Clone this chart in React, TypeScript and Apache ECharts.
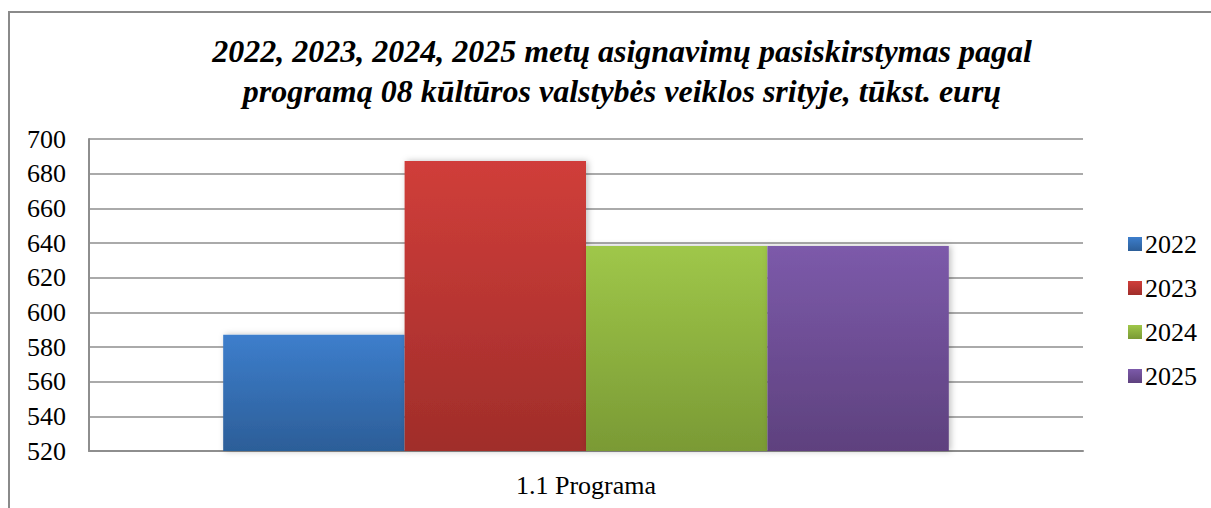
import React, { useEffect, useRef } from "react";
import * as echarts from "echarts";

const categories = ["1.1 Programa"];
const years = ["2022", "2023", "2024", "2025"];
const values2022 = [587];
const values2023 = [687.3];
const values2024 = [638.3];
const values2025 = [638.3];
const yTicks = { min: 520, max: 700, interval: 20 };
const titleText =
  "2022, 2023, 2024, 2025 metų asignavimų pasiskirstymas pagal\nprogramą 08 kūltūros valstybės veiklos srityje, tūkst. eurų";

const seriesValues = [values2022, values2023, values2024, values2025];
const gradients = [
  ["#3D7ECC", "#2C5E98"],
  ["#D03E3A", "#A02D2A"],
  ["#9FC749", "#7A9A35"],
  ["#7C5AAA", "#5E417E"],
];

const FONT = "Liberation Serif";

export default function App() {
  const ref = useRef<HTMLDivElement>(null);
  useEffect(() => {
    if (!ref.current) return;
    const chart = echarts.init(ref.current, undefined, { renderer: "svg" });
    chart.setOption({
      animation: false,
      backgroundColor: "#ffffff",
      textStyle: { fontFamily: FONT },
      title: {
        text: titleText,
        left: 617,
        top: 26,
        textAlign: "center",
        textStyle: {
          fontFamily: FONT,
          fontStyle: "italic",
          fontWeight: "bold",
          fontSize: 32,
          lineHeight: 40,
          color: "#000",
        },
      },
      graphic: [
        {
          type: "polyline",
          shape: { points: [[9, 520], [9, 12], [1220, 12]] },
          style: { stroke: "#8a8a8a", lineWidth: 2, fill: "none" },
          silent: true,
        },
      ],
      legend: {
        orient: "vertical",
        left: 1123,
        top: 226,
        itemWidth: 14,
        itemHeight: 14,
        itemGap: 18,
        icon: "rect",
        textStyle: { fontFamily: FONT, fontSize: 26, color: "#000", padding: [0, 0, 0, -2] },
        data: years,
      },
      grid: { left: 89, right: 128, top: 139, bottom: 57 },
      xAxis: {
        type: "category",
        data: categories,
        axisTick: { show: false },
        axisLine: { lineStyle: { color: "#8e8e8e", width: 2 } },
        axisLabel: { fontFamily: FONT, fontSize: 26, color: "#000", margin: 21 },
      },
      yAxis: {
        type: "value",
        min: yTicks.min,
        max: yTicks.max,
        interval: yTicks.interval,
        axisLine: { show: true, lineStyle: { color: "#8e8e8e", width: 2 } },
        axisTick: { show: false },
        splitLine: { lineStyle: { color: "#8e8e8e", width: 1.5 } },
        axisLabel: { fontFamily: FONT, fontSize: 26, color: "#000", margin: 23 },
      },
      series: years.map((y, i) => ({
        name: y,
        type: "bar",
        data: seriesValues[i],
        barGap: "0%",
        barCategoryGap: "27%",
        itemStyle: {
          color: new echarts.graphic.LinearGradient(0, 0, 0, 1, [
            { offset: 0, color: gradients[i][0] },
            { offset: 1, color: gradients[i][1] },
          ]),
          shadowBlur: 6,
          shadowColor: "rgba(0,0,0,0.25)",
          shadowOffsetX: 2,
        },
      })),
    });
    return () => chart.dispose();
  }, []);
  return (
    <div
      ref={ref}
      style={{ position: "fixed", left: 0, top: 0, width: 1211, height: 508 }}
    />
  );
}
